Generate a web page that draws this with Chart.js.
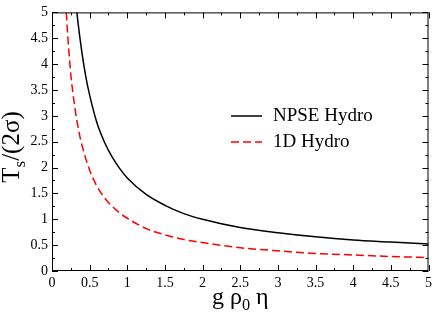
<!DOCTYPE html>
<html>
<head>
<meta charset="utf-8">
<script src="https://cdn.jsdelivr.net/npm/chart.js@4.4.1/dist/chart.umd.min.js"></script>
<style>
  html, body { margin: 0; padding: 0; background: #fff; }
</style>
</head>
<body>
<canvas id="myChart" width="436" height="313"></canvas>
<script>
// curves
const npseX = [0.33, 0.35, 0.4, 0.45, 0.5, 0.6, 0.7, 0.8, 0.9, 1.0, 1.25, 1.5, 1.75, 2.0, 2.5, 3.0, 3.5, 4.0, 4.5, 5.0];
const npseY = [5.0, 4.75, 4.2, 3.75, 3.4, 2.85, 2.48, 2.2, 1.98, 1.8, 1.48, 1.27, 1.11, 1.0, 0.84, 0.74, 0.66, 0.6, 0.56, 0.52];

const hydroX = [0.19, 0.2, 0.25, 0.3, 0.35, 0.4, 0.5, 0.6, 0.7, 0.8, 0.9, 1.0, 1.25, 1.5, 1.75, 2.0, 2.5, 3.0, 3.5, 4.0, 4.5, 5.0];
const hydroY = [5.0, 4.75, 3.8, 3.2, 2.75, 2.42, 1.95, 1.63, 1.41, 1.25, 1.12, 1.02, 0.82, 0.70, 0.61, 0.55, 0.45, 0.39, 0.34, 0.31, 0.28, 0.26];

const seriesNames = ['NPSE Hydro', '1D Hydro'];
const xTickLabels = ['0', '0.5', '1', '1.5', '2', '2.5', '3', '3.5', '4', '4.5', '5'];
const yTickLabels = ['0', '0.5', '1', '1.5', '2', '2.5', '3', '3.5', '4', '4.5', '5'];

const SERIF = '"Liberation Serif", "Times New Roman", serif';

function toPoints(xs, ys) {
    return xs.map((x, i) => ({ x: x, y: ys[i] }));
}

function labelFor(list) {
    return function (value) {
        const s = list.find(l => Math.abs(parseFloat(l) - value) < 1e-6);
        return s !== undefined ? s : '';
    };
}

// frame plus inward major/minor ticks on all four sides
const framePlugin = {
    id: 'frame',
    afterDatasetsDraw(chart) {
        const ctx = chart.ctx;
        const a = chart.chartArea;
        const xs = chart.scales.x, ys = chart.scales.y;
        ctx.save();
        ctx.strokeStyle = '#000';
        ctx.lineWidth = 1;
        ctx.strokeRect(a.left + 0.5, a.top + 0.5, a.right - a.left - 1, a.bottom - a.top - 1);
        ctx.beginPath();
        for (let v = 0; v <= 5.0001; v += 0.25) {
            const len = (Math.round(v * 4) % 2 === 0) ? 6 : 3;
            const px = Math.round(xs.getPixelForValue(v)) + 0.5;
            ctx.moveTo(px, a.bottom); ctx.lineTo(px, a.bottom - len);
            ctx.moveTo(px, a.top); ctx.lineTo(px, a.top + len);
            const py = Math.round(ys.getPixelForValue(v)) + 0.5;
            ctx.moveTo(a.left, py); ctx.lineTo(a.left + len, py);
            ctx.moveTo(a.right, py); ctx.lineTo(a.right - len, py);
        }
        ctx.stroke();
        ctx.restore();
    }
};

// draws pieces of text, some as subscripts, starting at x along the baseline
function drawRich(ctx, parts, size, x, y) {
    let cx = x;
    parts.forEach(p => {
        const sz = p.sub ? size * 0.68 : size;
        ctx.font = sz + 'px ' + SERIF;
        ctx.fillText(p.t, cx, y + (p.sub ? size * 0.25 : 0));
        cx += ctx.measureText(p.t).width;
    });
}
function richWidth(ctx, parts, size) {
    let w = 0;
    parts.forEach(p => {
        ctx.font = (p.sub ? size * 0.68 : size) + 'px ' + SERIF;
        w += ctx.measureText(p.t).width;
    });
    return w;
}

const titlePlugin = {
    id: 'titles',
    afterDraw(chart) {
        const ctx = chart.ctx;
        const a = chart.chartArea;
        ctx.save();
        ctx.fillStyle = '#000';
        ctx.textBaseline = 'alphabetic';
        ctx.textAlign = 'left';

        const xt = [{ t: 'g ρ' }, { t: '0', sub: true }, { t: ' η' }];
        const wx = richWidth(ctx, xt, 24);
        drawRich(ctx, xt, 24, (a.left + a.right) / 2 - wx / 2, 304);

        const yt = [{ t: 'T' }, { t: 's', sub: true }, { t: '/(2σ)' }];
        const wy = richWidth(ctx, yt, 25);
        ctx.translate(19, 147);
        ctx.rotate(-Math.PI / 2);
        drawRich(ctx, yt, 25, -wy / 2, 0);
        ctx.restore();

        // legend inside the plot
        ctx.save();
        chart.data.datasets.forEach((ds, i) => {
            const y = 116 + i * 26;
            ctx.strokeStyle = ds.borderColor;
            ctx.lineWidth = 1.5;
            ctx.setLineDash(ds.borderDash || []);
            ctx.beginPath();
            ctx.moveTo(231, y); ctx.lineTo(262, y);
            ctx.stroke();
            ctx.setLineDash([]);
            ctx.fillStyle = '#000';
            ctx.font = '19px ' + SERIF;
            ctx.textBaseline = 'middle';
            ctx.fillText(ds.label, 273, y);
        });
        ctx.restore();
    }
};

const ctx = document.getElementById('myChart').getContext('2d');
const myChart = new Chart(ctx, {
    type: 'scatter',
    data: {
        datasets: [{
            label: seriesNames[0],
            data: toPoints(npseX, npseY),
            showLine: true,
            borderColor: '#000000',
            borderWidth: 1.5,
            pointRadius: 0,
            cubicInterpolationMode: 'monotone'
        }, {
            label: seriesNames[1],
            data: toPoints(hydroX, hydroY),
            showLine: true,
            borderColor: '#ff0000',
            borderWidth: 1.5,
            borderDash: [8, 4],
            pointRadius: 0,
            cubicInterpolationMode: 'monotone'
        }]
    },
    options: {
        responsive: false,
        animation: false,
        layout: { padding: { top: 5, right: 5, left: 0, bottom: 0 } },
        plugins: { legend: { display: false }, tooltip: { enabled: false } },
        scales: {
            x: {
                type: 'linear', min: 0, max: 5,
                grid: { display: false, drawTicks: false },
                border: { display: false },
                ticks: {
                    stepSize: 0.5, padding: 4, maxRotation: 0, autoSkip: false,
                    color: '#000', font: { family: SERIF, size: 14 },
                    callback: labelFor(xTickLabels)
                },
                afterFit: s => { s.height = 42; }
            },
            y: {
                type: 'linear', min: 0, max: 5,
                grid: { display: false, drawTicks: false },
                border: { display: false },
                ticks: {
                    stepSize: 0.5, padding: 4, autoSkip: false,
                    color: '#000', font: { family: SERIF, size: 14 },
                    callback: labelFor(yTickLabels)
                },
                afterFit: s => { s.width = 52; }
            }
        }
    },
    plugins: [framePlugin, titlePlugin]
});
</script>
</body>
</html>
